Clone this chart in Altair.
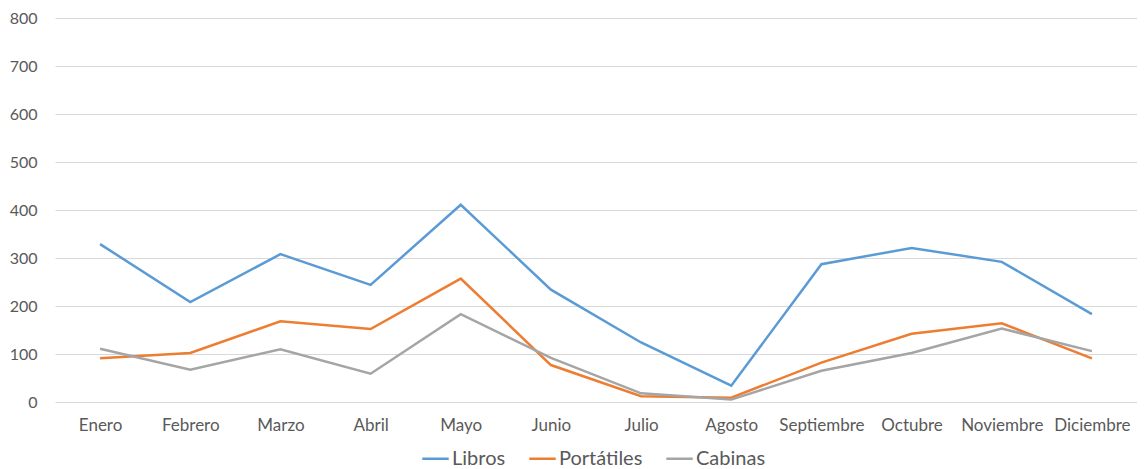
import altair as alt
import pandas as pd

meses = ["Enero", "Febrero", "Marzo", "Abril", "Mayo", "Junio", "Julio",
         "Agosto", "Septiembre", "Octubre", "Noviembre", "Diciembre"]
series = ["Libros", "Portátiles", "Cabinas"]
libros = [329, 208, 308, 244, 411, 234, 124, 34, 287, 321, 292, 183]
portatiles = [91, 102, 168, 152, 257, 77, 12, 9, 82, 142, 164, 91]
cabinas = [111, 67, 110, 59, 183, 92, 18, 5, 65, 102, 153, 106]
colores = ["#5B9BD5", "#ED7D31", "#A5A5A5"]

rows = []
for name, vals in zip(series, [libros, portatiles, cabinas]):
    for m, v in zip(meses, vals):
        rows.append({"Mes": m, "Serie": name, "Valor": v})
df = pd.DataFrame(rows)

FONT = "Lato"
GRAY = "#595959"

chart = alt.Chart(df).mark_line(strokeWidth=2.5).encode(
    x=alt.X("Mes:N", sort=meses, title=None,
            scale=alt.Scale(paddingOuter=0.5),
            axis=alt.Axis(labelAngle=0, ticks=False, domain=False, grid=False,
                          labelPadding=15, labelFontSize=17, labelColor=GRAY,
                          labelFont=FONT)),
    y=alt.Y("Valor:Q", title=None,
            scale=alt.Scale(domain=[0, 800]),
            axis=alt.Axis(values=list(range(0, 801, 100)), ticks=False, domain=False,
                          gridColor="#D9D9D9", gridWidth=1, labelPadding=18,
                          labelFontSize=16, labelColor=GRAY, labelFont=FONT,
                          minExtent=47, maxExtent=47)),
    color=alt.Color("Serie:N", sort=series,
                    scale=alt.Scale(domain=series, range=colores),
                    legend=alt.Legend(orient="none", legendX=366, legendY=426,
                                      direction="horizontal", title=None,
                                      symbolType="stroke", symbolSize=700,
                                      symbolStrokeWidth=2.5, labelFontSize=20,
                                      labelColor=GRAY, labelFont=FONT,
                                      columnPadding=18, labelOffset=2)),
).properties(
    width=1082, height=384,
    autosize=alt.AutoSizeParams(type="none"),
    padding={"left": 47, "top": 10, "right": 0, "bottom": 66},
).configure_view(stroke=None)

chart.save("out.html", embed_options={"renderer": "svg", "actions": False})
